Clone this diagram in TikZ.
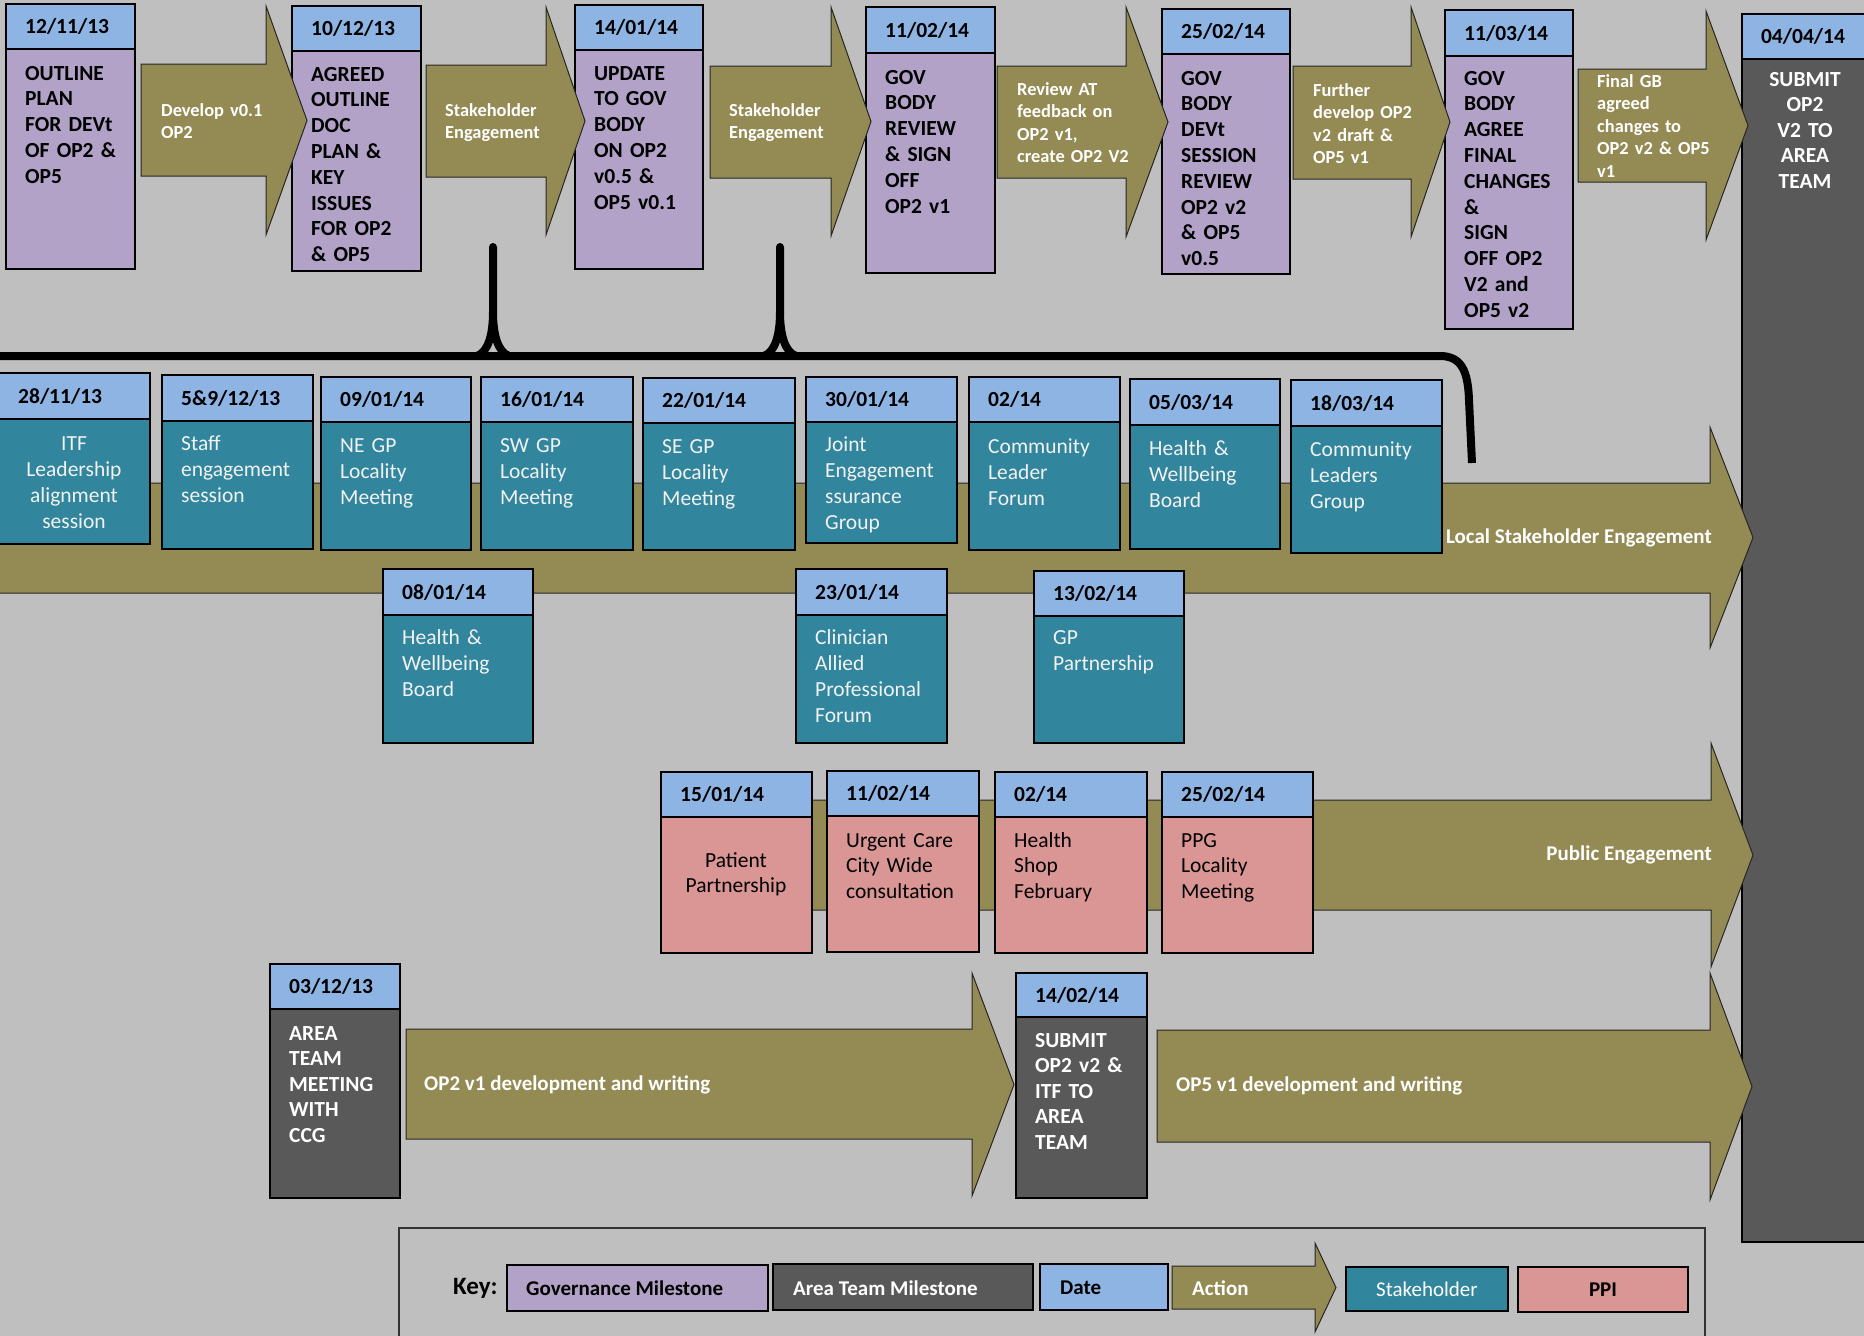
\documentclass[tikz,border=0pt]{standalone}
\usepackage{fontspec}
\setmainfont{Carlito}
\usetikzlibrary{fit,calc}
\definecolor{bgc}{HTML}{BFBFBF}
\definecolor{govc}{HTML}{B3A2C7}
\definecolor{datec}{HTML}{8EB4E3}
\definecolor{actc}{HTML}{948A54}
\definecolor{stkc}{HTML}{31859C}
\definecolor{ppic}{HTML}{D99694}
\definecolor{atc}{HTML}{595959}
\tikzset{
 boxbase/.style={draw=black, line width=1.3pt, inner sep=0pt, outer sep=0pt},
 govbox/.style={fill=govc},
 stkbox/.style={fill=stkc},
 ppibox/.style={fill=ppic},
 atbox/.style={fill=atc},
 datetxt/.style={font=\fontsize{21.5}{25.8}\selectfont\bfseries, text=black, inner sep=0pt},
 bodytxt/.style={inner sep=0pt, text width=200pt, align=left},
 govtxt/.style={bodytxt, font=\fontsize{21.5}{25.8}\selectfont\bfseries, text=black},
 attxt/.style={bodytxt, font=\fontsize{21.5}{25.5}\selectfont\bfseries, text=white},
 stktxt/.style={bodytxt, font=\fontsize{21.5}{26}\selectfont, text=white!95!black},
 ppitxt/.style={bodytxt, font=\fontsize{21.5}{25.5}\selectfont, text=black},
 acttxt/.style={bodytxt, font=\fontsize{18.4}{22.6}\selectfont\bfseries, text=white},
 bigtxt/.style={font=\fontsize{21}{25}\selectfont\bfseries, text=white, inner sep=0pt},
 legtxt/.style={font=\fontsize{21}{25}\selectfont\bfseries, text=black, inner sep=0pt},
 keytxt/.style={font=\fontsize{25}{30}\selectfont\bfseries, text=black, inner sep=0pt},
 arrowshape/.style={fill=actc, draw=black!85, line width=1pt},
 brace/.style={line width=8pt, draw=black},
}
% name, x1, ytop, x2, ydate, ybottom, body style, date
\newcommand\evbox[8]{%
  \node[fit={(#2,#5) (#4,#6)}, boxbase, #7] (#1) {};
  \node[fit={(#2,#3) (#4,#5)}, boxbase, fill=datec] (#1d) {};
  \node[datetxt, anchor=west] (#1dt) at ([xshift=19pt]#1d.west) {#8};
}
% name, box, dy, style, text
\newcommand\btext[5]{\node[#4, anchor=base west] (#1) at ([xshift=19pt,yshift=-#3pt]#2.north west) {#5};}
% name, xL, yT, yB, xH, hT, hB, xTip
\newcommand\actarrow[8]{%
  \path[arrowshape] (#2,#3) -- (#5,#3) -- (#5,#6) -- (#8,{(#6+#7)/2}) -- (#5,#7) -- (#5,#4) -- (#2,#4) -- cycle;
  \coordinate (#1) at (#8,{(#6+#7)/2});
}
\begin{document}
\begin{tikzpicture}[x=1pt,y=-1pt]
\useasboundingbox (0,0) rectangle (1864,1336);
\clip (0,0) rectangle (1864,1336);
\fill[bgc] (0,0) rectangle (1864,1336);

% final area team box
\node[fit={(1742,59) (1875,1242)}, boxbase, fill=atc] (b7) {};
\node[fit={(1742,14) (1875,59)}, boxbase, fill=datec] (b7d) {};
\node[datetxt] (b7dt) at (1803,36.5) {04/04/14};
\node[attxt, align=center, anchor=base] (b7t) at (1805,86) {SUBMIT\\OP2\\V2 TO\\AREA\\TEAM};

% top row governance boxes
\evbox{b1}{6}{4}{135}{49}{269}{govbox}{12/11/13}
\btext{b1t}{b1}{31}{govtxt}{OUTLINE\\PLAN\\FOR DEVt\\OF OP2 \&\\OP5}
\evbox{b2}{292}{6}{421}{51}{271}{govbox}{10/12/13}
\btext{b2t}{b2}{30}{govtxt}{AGREED\\OUTLINE\\DOC\\PLAN \&\\KEY\\ISSUES\\FOR OP2\\\& OP5}
\evbox{b3}{575}{5}{703}{50}{269}{govbox}{14/01/14}
\btext{b3t}{b3}{30}{govtxt}{UPDATE\\TO GOV\\BODY\\ON OP2\\v0.5 \&\\OP5 v0.1}
\evbox{b4}{866}{7}{995}{53}{273}{govbox}{11/02/14}
\btext{b4t}{b4}{31}{govtxt}{GOV\\BODY\\REVIEW\\\& SIGN\\OFF\\OP2 v1}
\evbox{b5}{1162}{9}{1290}{54}{274}{govbox}{25/02/14}
\btext{b5t}{b5}{31}{govtxt}{GOV\\BODY\\DEVt\\SESSION\\REVIEW\\OP2 v2\\\& OP5\\v0.5}
\evbox{b6}{1445}{10}{1573}{56}{329}{govbox}{11/03/14}
\btext{b6t}{b6}{29}{govtxt}{GOV\\BODY\\AGREE\\FINAL\\CHANGES\\\&\\SIGN\\OFF OP2\\V2 and\\OP5 v2}

% top row actions
\actarrow{a1}{141}{64}{176}{266}{6}{235}{307}
\node[acttxt, anchor=base west] (a1t) at (161,116) {Develop v0.1\\OP2};
\actarrow{a2}{426}{65}{177}{546}{7}{235}{585}
\node[acttxt, anchor=base west] (a2t) at (445,116) {Stakeholder\\Engagement};
\actarrow{a3}{710}{66}{178}{831}{7}{236}{871}
\node[acttxt, anchor=base west] (a3t) at (729,116) {Stakeholder\\Engagement};
\actarrow{a4}{997}{66}{178}{1126}{7}{237}{1168}
\node[acttxt, anchor=base west] (a4t) at (1017,95) {Review AT\\feedback on\\OP2 v1,\\create OP2 V2};
\actarrow{a5}{1293}{66}{179}{1411}{7}{237}{1450}
\node[acttxt, anchor=base west] (a5t) at (1313,96) {Further\\develop OP2\\v2 draft \&\\OP5 v1};
\actarrow{a6}{1578}{69}{182}{1706}{11}{240}{1748}
\node[acttxt, anchor=base west] (a6t) at (1597,87) {Final GB\\agreed\\changes to\\OP2 v2 \& OP5\\v1};

% bracket
\draw[brace, line cap=butt] (-10,356) -- (1440,356) .. controls (1462,356) and (1468,372) .. (1469,400) -- (1472,463);
\draw[brace, line cap=round] (477,356) .. controls (488,352) and (493,335) .. (493,312) -- (493,247);
\draw[brace, line cap=round] (509,356) .. controls (498,352) and (493,335) .. (493,312);
\draw[brace, line cap=round] (764,356) .. controls (775,352) and (780,335) .. (780,312) -- (780,247);
\draw[brace, line cap=round] (796,356) .. controls (785,352) and (780,335) .. (780,312);

% local stakeholder engagement
\actarrow{al}{-10}{483}{593}{1710}{427}{648}{1753}
\evbox{s1}{-1}{373}{150}{419}{544}{stkbox}{28/11/13}
\node[stktxt, align=center, anchor=base] (s1t) at (74,450) {ITF\\Leadership\\alignment\\session};
\evbox{s2}{162}{375}{313}{421}{549}{stkbox}{5\&9/12/13}
\btext{s2t}{s2}{29}{stktxt}{Staff\\engagement\\session}
\evbox{s3}{321}{377}{471}{422}{550}{stkbox}{09/01/14}
\btext{s3t}{s3}{30}{stktxt}{NE GP\\Locality\\Meeting}
\evbox{s4}{481}{377}{633}{422}{550}{stkbox}{16/01/14}
\btext{s4t}{s4}{30}{stktxt}{SW GP\\Locality\\Meeting}
\evbox{s5}{643}{378}{795}{423}{550}{stkbox}{22/01/14}
\btext{s5t}{s5}{30}{stktxt}{SE GP\\Locality\\Meeting}
\evbox{s6}{806}{377}{957}{422}{543}{stkbox}{30/01/14}
\btext{s6t}{s6}{29}{stktxt}{Joint\\Engagement\\ssurance\\Group}
\evbox{s7}{969}{377}{1120}{422}{550}{stkbox}{02/14}
\btext{s7t}{s7}{31}{stktxt}{Community\\Leader\\Forum}
\evbox{s8}{1130}{379}{1280}{425}{549}{stkbox}{05/03/14}
\btext{s8t}{s8}{30}{stktxt}{Health \&\\Wellbeing\\Board}
\evbox{s9}{1291}{380}{1442}{426}{553}{stkbox}{18/03/14}
\btext{s9t}{s9}{30}{stktxt}{Community\\Leaders\\Group}
\evbox{s10}{383}{569}{533}{615}{743}{stkbox}{08/01/14}
\btext{s10t}{s10}{29}{stktxt}{Health \&\\Wellbeing\\Board}
\evbox{s11}{796}{569}{947}{615}{743}{stkbox}{23/01/14}
\btext{s11t}{s11}{29}{stktxt}{Clinician\\Allied\\Professional\\Forum}
\evbox{s12}{1034}{571}{1184}{616}{743}{stkbox}{13/02/14}
\btext{s12t}{s12}{28}{stktxt}{GP\\Partnership}
\node[bigtxt, anchor=east] (alt) at (1712,538) {Local Stakeholder Engagement};

% public engagement
\actarrow{ap}{700}{800}{910}{1711}{743}{967}{1753}
\evbox{p1}{661}{772}{812}{817}{953}{ppibox}{15/01/14}
\node[ppitxt, align=center, anchor=base] (p1t) at (736,867) {Patient\\Partnership};
\evbox{p2}{827}{771}{979}{816}{952}{ppibox}{11/02/14}
\btext{p2t}{p2}{31}{ppitxt}{Urgent Care\\City Wide\\consultation}
\evbox{p3}{995}{772}{1147}{817}{953}{ppibox}{02/14}
\btext{p3t}{p3}{30}{ppitxt}{Health\\Shop\\February}
\evbox{p4}{1162}{772}{1313}{817}{953}{ppibox}{25/02/14}
\btext{p4t}{p4}{30}{ppitxt}{PPG\\Locality\\Meeting}
\node[bigtxt, anchor=east] (apt) at (1712,855) {Public Engagement};

% area team row
\evbox{t1}{270}{964}{400}{1009}{1198}{atbox}{03/12/13}
\btext{t1t}{t1}{31}{attxt}{AREA\\TEAM\\MEETING\\WITH\\CCG}
\evbox{t2}{1016}{973}{1147}{1017}{1198}{atbox}{14/02/14}
\btext{t2t}{t2}{30}{attxt}{SUBMIT\\OP2 v2 \&\\ITF TO\\AREA\\TEAM}
\actarrow{aop2}{406}{1029}{1139}{972}{973}{1196}{1014}
\node[bigtxt, anchor=west] (aop2t) at (424,1085) {OP2 v1 development and writing};
\actarrow{aop5}{1157}{1030}{1142}{1710}{973}{1200}{1752}
\node[bigtxt, anchor=west] (aop5t) at (1176,1086) {OP5 v1 development and writing};

% legend
\draw[draw=black!80, line width=1.2pt] (399,1228) rectangle (1705,1360);
\node[keytxt, anchor=west] (key) at (453,1288) {Key:};
\node[fit={(507,1265) (768,1311)}, boxbase, fill=govc] (lg) {};
\node[legtxt, anchor=west] (lgt) at (526,1288) {Governance Milestone};
\node[fit={(773,1264) (1033,1310)}, boxbase, fill=atc] (la) {};
\node[legtxt, text=white, anchor=west] (lat) at (793,1288) {Area Team Milestone};
\node[fit={(1040,1264) (1168,1310)}, boxbase, fill=datec] (ld) {};
\node[legtxt, anchor=west] (ldt) at (1060,1288) {Date};
\actarrow{lac}{1172}{1266}{1309}{1315}{1243}{1332}{1336}
\node[legtxt, text=white, anchor=west] (lact) at (1192,1288) {Action};
\node[fit={(1346,1267) (1508,1311)}, boxbase, fill=stkc] (ls) {};
\node[legtxt, font=\fontsize{21}{25}\selectfont, text=white] (lst) at (ls) {Stakeholder};
\node[fit={(1518,1267) (1688,1312)}, boxbase, fill=ppic] (lp) {};
\node[legtxt] (lpt) at (lp) {PPI};
\end{tikzpicture}
\end{document}
